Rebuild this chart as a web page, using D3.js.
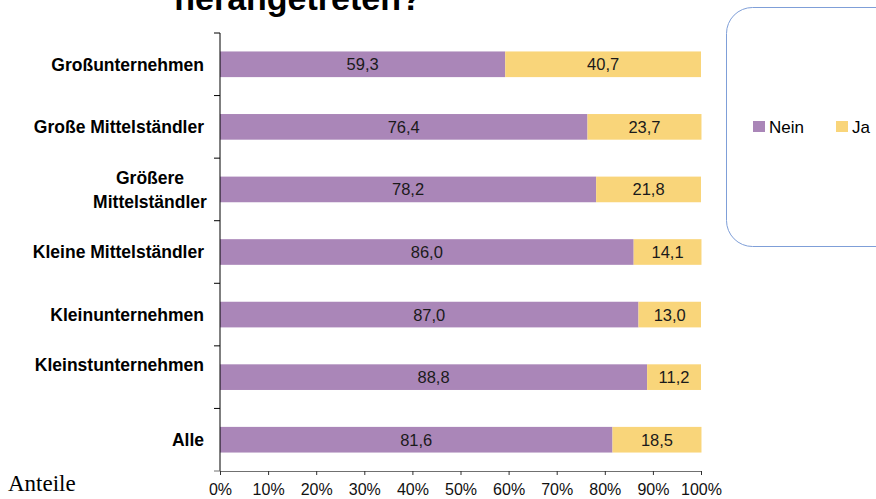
<!DOCTYPE html>
<html>
<head>
<meta charset="utf-8">
<script src="https://cdn.jsdelivr.net/npm/d3@7"></script>
<style>
  html, body { margin: 0; padding: 0; background: #fff; }
  svg { display: block; font-family: "Liberation Sans", Arial, sans-serif; }
</style>
</head>
<body>
<svg id="chart" width="876" height="499"></svg>
<script>
// Company size classes (top to bottom)
const categories = [
  "Großunternehmen",
  "Große Mittelständler",
  "Größere Mittelständler",
  "Kleine Mittelständler",
  "Kleinunternehmen",
  "Kleinstunternehmen",
  "Alle"
];
// Share answering "Nein" / "Ja" in percent
const neinValues = [59.3, 76.4, 78.2, 86.0, 87.0, 88.8, 81.6];
const jaValues   = [40.7, 23.7, 21.8, 14.1, 13.0, 11.2, 18.5];
const seriesNames = ["Nein", "Ja"];
const xTicks = [0, 10, 20, 30, 40, 50, 60, 70, 80, 90, 100];

const colors = { Nein: "#aa86b8", Ja: "#f9d57a" };

const svg = d3.select("#chart");
const plot = { left: 220, right: 701, top: 33, bottom: 471 };

const x = d3.scaleLinear().domain([0, 100]).range([plot.left, plot.right]);
const y = d3.scaleBand().domain(categories).range([plot.top, plot.bottom])
  .paddingInner(0.59).paddingOuter(0.295);

const rows = categories.map((c, i) => ({ cat: c, Nein: neinValues[i], Ja: jaValues[i] }));
const stacked = d3.stack().keys(seriesNames)(rows);

// Title (second line)
svg.append("text")
  .attr("x", 298).attr("y", 10)
  .attr("text-anchor", "middle")
  .attr("font-size", 34).attr("font-weight", "bold")
  .attr("fill", "#000")
  .text("herangetreten?");

// Stacked bars
const layers = svg.append("g").selectAll("g").data(stacked).join("g")
  .attr("fill", d => colors[d.key]);
layers.selectAll("rect").data(d => d).join("rect")
  .attr("x", d => x(d[0]))
  .attr("width", d => x(d[1]) - x(d[0]))
  .attr("y", d => y(d.data.cat))
  .attr("height", y.bandwidth());

// Value labels centred in each segment
layers.selectAll("text").data(d => d).join("text")
  .attr("x", d => (x(d[0]) + x(d[1])) / 2)
  .attr("y", d => y(d.data.cat) + y.bandwidth() / 2)
  .attr("dy", "0.36em")
  .attr("text-anchor", "middle")
  .attr("font-size", 16.5)
  .attr("fill", "#1a1a1a")
  .text(d => d3.format(".1f")(d[1] - d[0]).replace(".", ","));

// X axis
const xAxis = svg.append("g")
  .attr("transform", `translate(0,${plot.bottom})`)
  .call(d3.axisBottom(x).tickValues(xTicks).tickSize(4).tickPadding(9)
    .tickFormat(d => d + "%"));
xAxis.select(".domain").attr("stroke", "#707070");
xAxis.selectAll(".tick line").attr("stroke", "#303030");
xAxis.selectAll(".tick text").attr("font-size", 16).attr("fill", "#111")
  .attr("font-family", "Liberation Sans, Arial, sans-serif");

// Y axis with ticks at the category boundaries
const boundaries = d3.range(categories.length + 1)
  .map(i => plot.top + i * (plot.bottom - plot.top) / categories.length);
const yAxis = svg.append("g");
yAxis.append("line")
  .attr("x1", plot.left).attr("x2", plot.left)
  .attr("y1", plot.top).attr("y2", plot.bottom)
  .attr("stroke", "#000");
yAxis.selectAll("line.tk").data(boundaries).join("line")
  .attr("class", "tk")
  .attr("x1", plot.left - 6).attr("x2", plot.left)
  .attr("y1", d => d).attr("y2", d => d)
  .attr("stroke", d => d === plot.bottom ? "#707070" : "#000");

// Category labels
const labelOffsets = { "Kleinstunternehmen": -12 };
categories.forEach(c => {
  const cy = y(c) + y.bandwidth() / 2 + (labelOffsets[c] || 0);
  if (c === "Größere Mittelständler") {
    const t = svg.append("text")
      .attr("x", 150).attr("text-anchor", "middle")
      .attr("font-size", 17.5).attr("font-weight", "bold").attr("fill", "#000");
    t.append("tspan").attr("x", 150).attr("y", cy - 12).attr("dy", "0.36em").text("Größere");
    t.append("tspan").attr("x", 150).attr("y", cy + 12).attr("dy", "0.36em").text("Mittelständler");
  } else {
    svg.append("text")
      .attr("x", 204).attr("y", cy).attr("dy", "0.36em")
      .attr("text-anchor", "end")
      .attr("font-size", 17.5).attr("font-weight", "bold").attr("fill", "#000")
      .text(c);
  }
});

// Unit note
svg.append("text")
  .attr("x", 8).attr("y", 491)
  .attr("font-family", "Liberation Serif, 'Times New Roman', serif")
  .attr("font-size", 23).attr("fill", "#000")
  .text("Anteile");

// Legend
const legend = svg.append("g");
legend.append("rect")
  .attr("x", 726.5).attr("y", 7.5).attr("width", 180).attr("height", 239)
  .attr("rx", 26).attr("ry", 26)
  .attr("fill", "#fff").attr("stroke", "#7f9fd8").attr("stroke-width", 1);
const legendX = [753, 836];
seriesNames.forEach((s, i) => {
  legend.append("rect")
    .attr("x", legendX[i]).attr("y", 121).attr("width", 12).attr("height", 11)
    .attr("fill", colors[s]);
  legend.append("text")
    .attr("x", legendX[i] + 16).attr("y", 126.5).attr("dy", "0.36em")
    .attr("font-size", 17).attr("fill", "#000")
    .text(s);
});
</script>
</body>
</html>
